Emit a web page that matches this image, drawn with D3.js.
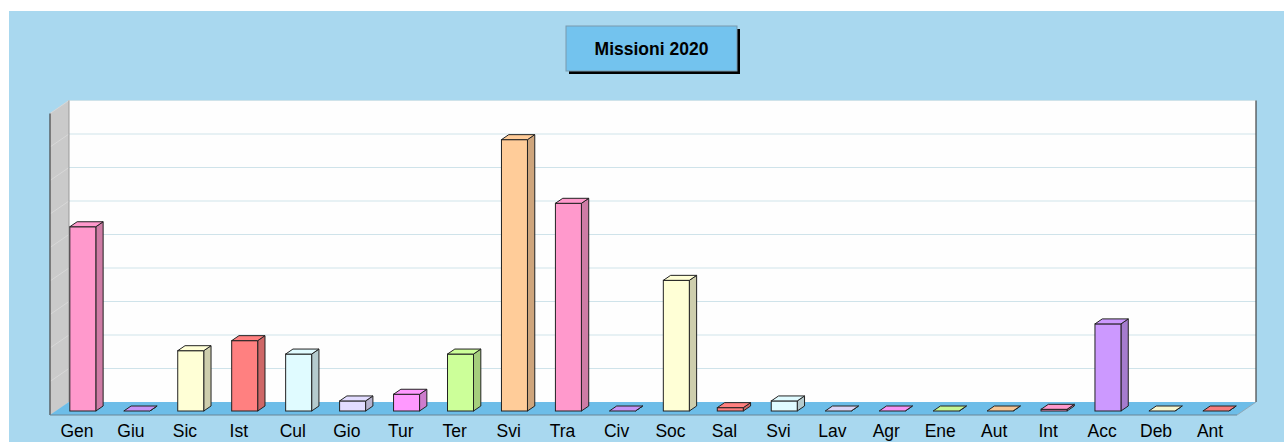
<!DOCTYPE html>
<html>
<head>
    <meta charset="UTF-8" />
    <title>Missioni 2020</title>
    <script src="https://d3js.org/d3.v7.min.js"></script>
    <style>
        body { margin: 0; background: white; }
        svg text { font-family: "Liberation Sans", Arial, sans-serif; }
    </style>
</head>
<body>
<svg width="1284" height="442"></svg>
<script>
    // data
    var categories = ["Gen", "Giu", "Sic", "Ist", "Cul", "Gio", "Tur", "Ter", "Svi", "Tra", "Civ",
        "Soc", "Sal", "Svi ", "Lav", "Agr", "Ene", "Aut", "Int", "Acc", "Deb", "Ant"];
    var labels = ["Gen", "Giu", "Sic", "Ist", "Cul", "Gio", "Tur", "Ter", "Svi", "Tra", "Civ",
        "Soc", "Sal", "Svi", "Lav", "Agr", "Ene", "Aut", "Int", "Acc", "Deb", "Ant"];
    var values = [55, 0, 18, 21, 17, 3, 5, 17, 81, 62, 0, 39, 1, 3, 0, 0, 0, 0, 0.5, 26, 0, 0];
    var gridValues = [10, 20, 30, 40, 50, 60, 70, 80, 90];
    var palette = ["#FF99CC", "#CC99FF", "#FFFFD6", "#FF8080", "#E0FBFF", "#E2DCFF", "#FF99FF", "#CCFF99", "#FFCC99"];

    var svg = d3.select("svg");

    // plot geometry
    var x0 = 50, x1 = 1237, floorY = 415, depthX = 19, depthY = 13;
    var plotH = 301.5;
    var barW = 26;

    var xScale = d3.scaleBand().domain(categories).range([x0, x1]);
    var yScale = d3.scaleLinear().domain([0, 90]).range([0, plotH]);

    // background panel
    svg.append("rect").attr("x", 9).attr("y", 11).attr("width", 1275).attr("height", 431)
        .attr("fill", "#A9D8EF");

    // back wall
    var backTop = floorY - depthY - plotH;
    svg.append("rect").attr("x", x0 + depthX).attr("y", backTop)
        .attr("width", x1 - x0).attr("height", plotH).attr("fill", "#FEFEFE");

    // left wall
    svg.append("path")
        .attr("d", d3.line()([[x0, floorY - plotH], [x0 + depthX, backTop], [x0 + depthX, floorY - depthY], [x0, floorY]]) + "Z")
        .attr("fill", "#CACACA");

    // gridlines
    svg.selectAll(".grid").data(gridValues).enter().append("line")
        .attr("class", "grid")
        .attr("x1", x0 + depthX).attr("x2", x1 + depthX)
        .attr("y1", d => floorY - depthY - yScale(d)).attr("y2", d => floorY - depthY - yScale(d))
        .attr("stroke", "#CFE3EA").attr("stroke-width", 1.2);
    svg.selectAll(".gridw").data(gridValues).enter().append("line")
        .attr("class", "gridw")
        .attr("x1", x0).attr("x2", x0 + depthX)
        .attr("y1", d => floorY - yScale(d)).attr("y2", d => floorY - depthY - yScale(d))
        .attr("stroke", "#D8D8D8").attr("stroke-width", 1);

    // floor
    svg.append("path")
        .attr("d", d3.line()([[x0, floorY], [x0 + depthX, floorY - depthY], [x1 + depthX, floorY - depthY], [x1, floorY]]) + "Z")
        .attr("fill", "#6DBDE8");

    // edges
    svg.append("line").attr("x1", x0).attr("x2", x0).attr("y1", floorY - plotH).attr("y2", floorY)
        .attr("stroke", "#444").attr("stroke-width", 1.2);
    svg.append("line").attr("x1", x0 + depthX).attr("x2", x0 + depthX).attr("y1", backTop).attr("y2", floorY - depthY)
        .attr("stroke", "#999").attr("stroke-width", 1);
    svg.append("line").attr("x1", x1 + depthX).attr("x2", x1 + depthX).attr("y1", backTop).attr("y2", floorY - depthY)
        .attr("stroke", "#444").attr("stroke-width", 1.2);
    svg.append("line").attr("x1", x0).attr("x2", x1).attr("y1", floorY).attr("y2", floorY)
        .attr("stroke", "#6a8596").attr("stroke-width", 1);
    svg.append("line").attr("x1", x1).attr("x2", x1 + depthX).attr("y1", floorY).attr("y2", floorY - depthY)
        .attr("stroke", "#8fa9b8").attr("stroke-width", 1);

    // bars: front face sits 4/13 into the depth, back face 9/13
    var fdx = depthX * 4 / 13, fdy = depthY * 4 / 13;
    var bdx = depthX * 5 / 13, bdy = depthY * 5 / 13;

    var bars = svg.selectAll(".bar").data(values).enter().append("g").attr("class", "bar");

    function shade(c, k) { return d3.color(c).darker(k).formatHex(); }

    bars.each(function (d, i) {
        var g = d3.select(this);
        var col = palette[i % palette.length];
        var left = xScale(categories[i]) + (xScale.bandwidth() - barW) / 2 + fdx;
        var bottom = floorY - fdy;
        var top = bottom - yScale(d);
        var right = left + barW;
        // side
        g.append("path")
            .attr("d", d3.line()([[right, bottom], [right, top], [right + bdx, top - bdy], [right + bdx, bottom - bdy]]) + "Z")
            .attr("fill", shade(col, 0.6)).attr("stroke", "#222").attr("stroke-width", 1);
        // front
        g.append("rect").attr("x", left).attr("y", top).attr("width", barW).attr("height", yScale(d))
            .attr("fill", col).attr("stroke", "#222").attr("stroke-width", 1);
        // top
        g.append("path")
            .attr("d", d3.line()([[left, top], [left + bdx, top - bdy], [right + bdx, top - bdy], [right, top]]) + "Z")
            .attr("fill", d === 0 ? shade(col, 0.1) : col).attr("stroke", "#222").attr("stroke-width", 1);
    });

    // category labels
    svg.selectAll(".lab").data(labels).enter().append("text")
        .attr("class", "lab")
        .attr("x", (d, i) => xScale(categories[i]) + xScale.bandwidth() / 2)
        .attr("y", 437)
        .attr("text-anchor", "middle")
        .attr("font-size", "17.5px")
        .attr("fill", "#000")
        .text(d => d);

    // title box
    svg.append("rect").attr("x", 569).attr("y", 29).attr("width", 171).attr("height", 45).attr("fill", "#000");
    svg.append("rect").attr("x", 566).attr("y", 26).attr("width", 171).attr("height", 45)
        .attr("fill", "#73C3EE").attr("stroke", "#7a9aae").attr("stroke-width", 1);
    svg.append("text").attr("x", 651.5).attr("y", 55).attr("text-anchor", "middle")
        .attr("font-size", "17.5px").attr("font-weight", "bold").attr("fill", "#000")
        .text("Missioni 2020");
</script>
</body>
</html>
